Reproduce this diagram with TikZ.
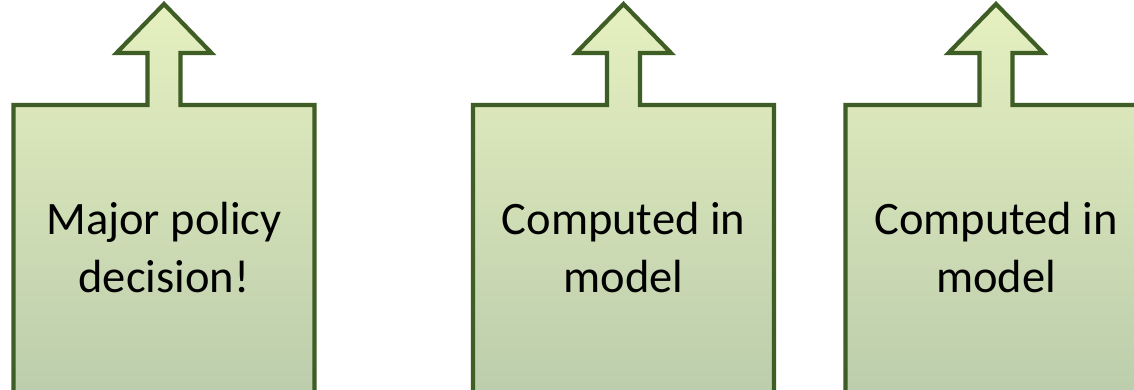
\documentclass[tikz,border=0pt]{standalone}
\usepackage{fontspec}
\setmainfont{Carlito}
\definecolor{edgegreen}{HTML}{3E5E25}
\definecolor{filltop}{HTML}{E6F0C0}
\definecolor{fillbottom}{HTML}{B9CBAB}
\tikzset{
  upbox/.style={draw=edgegreen, line width=4.2pt, line join=miter,
    top color=filltop, bottom color=fillbottom},
  boxtext/.style={inner sep=0pt, align=center, text=black,
    font=\fontsize{46.5}{58}\selectfont}
}
% box with an arrow on top, centred at x = #1
\newcommand{\arrowbox}[1]{%
  \path[upbox] (#1-150.5,420) -- (#1-150.5,105) -- (#1-16.5,105) -- (#1-16.5,53)
    -- (#1-47.5,53) -- (#1,4) -- (#1+47.5,53) -- (#1+16.5,53) -- (#1+16.5,105)
    -- (#1+150.5,105) -- (#1+150.5,420) -- cycle;}
\begin{document}
\begin{tikzpicture}[x=1pt, y=-1pt]
  \useasboundingbox (0,0) rectangle (1134,390);
  \clip (0,0) rectangle (1134,390);
  \fill[white] (0,0) rectangle (1134,390);
  \arrowbox{164}
  \arrowbox{623.5}
  \arrowbox{996}
  \node[boxtext] (policy) at (164,248) {Major policy\\decision!};
  \node[boxtext] (modelA) at (623.5,248) {Computed in\\model};
  \node[boxtext] (modelB) at (996,248) {Computed in\\model};
\end{tikzpicture}
\end{document}
